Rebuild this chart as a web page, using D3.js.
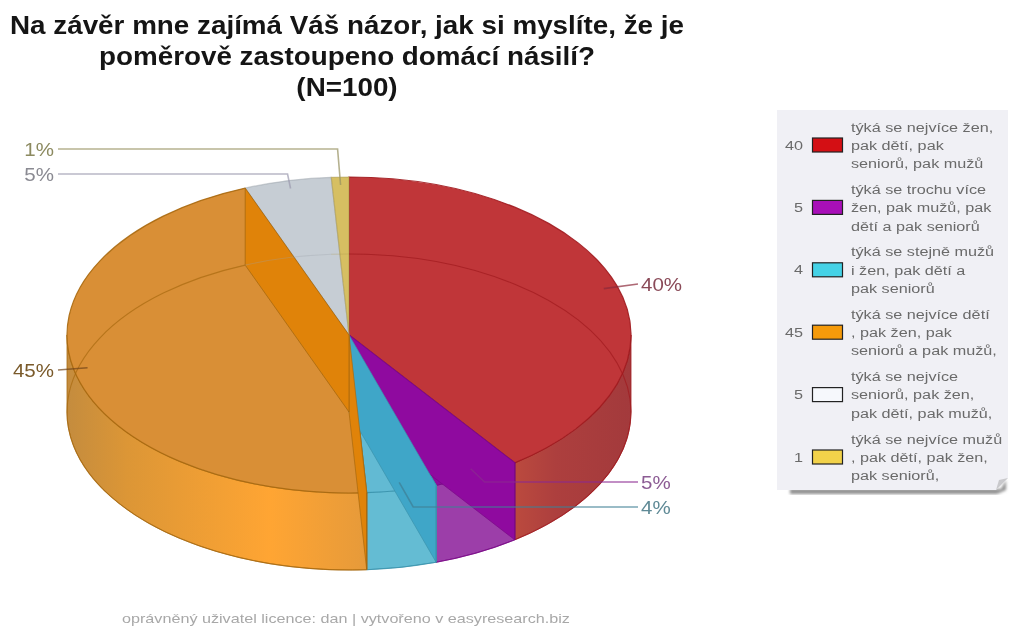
<!DOCTYPE html>
<html><head><meta charset="utf-8">
<script src="https://cdnjs.cloudflare.com/ajax/libs/d3/7.8.5/d3.min.js"></script>
<style>html,body{margin:0;background:#fff}svg{display:block;filter:blur(0.45px)}text{font-family:"Liberation Sans",Arial,sans-serif}</style>
</head><body><svg id="c" width="1010" height="627"></svg>
<script>
const titleLines = ["Na závěr mne zajímá Váš názor, jak si myslíte, že je","poměrově zastoupeno domácí násilí?","(N=100)"];
const values = [40,5,4,45,5,1];
const pctLabels = ["40%","5%","4%","45%","5%","1%"];
const legendLines = [
 ["týká se nejvíce žen,","pak dětí, pak","seniorů, pak mužů"],
 ["týká se trochu více","žen, pak mužů, pak","dětí a pak seniorů"],
 ["týká se stejně mužů","i žen, pak dětí a","pak seniorů"],
 ["týká se nejvíce dětí",", pak žen, pak","seniorů a pak mužů,"],
 ["týká se nejvíce","seniorů, pak žen,","pak dětí, pak mužů,"],
 ["týká se nejvíce mužů",", pak dětí, pak žen,","pak seniorů,"]];
const footer = "oprávněný uživatel licence: dan | vytvořeno v easyresearch.biz";

const swatch = ["#d40f14","#a80fb8","#45d2e6","#f59a0a","#f6f8fc","#f2d24a"];
const topFill = ["#c03639","#8f0a9f","#62bad3","#d98f36","#c6cdd4","#d6bf62"];
const sideFill = ["#a93c3e","#9c3ea9","#64bcd3","#f0a035","#c6cdd4","#d6bf62"];
const wallFill = ["#b03030","#8f0a9f","#3fa6c8","#e08309","#c6cdd4","#d6bf62"];
const edge = ["#a01a1e","#7a0a88","#3a93ad","#a8690f","#9aa2aa","#a8964a"];
const labelCol = ["#8a4a58","#8c5c94","#5f8a96","#7a5a2a","#8a8a92","#8c8a60"];
const lineCol = ["#8c2a3a","#8a2a90","#3f7f94","#70441a","#9a98ae","#96905f"];

const W=1010,H=627,cx=349,cy=335,rx=282,ry=158,depth=77;
const svg=d3.select("#c");
const defs=svg.append("defs");
const blur=defs.append("filter").attr("id","sh").attr("x","-5%").attr("y","-5%").attr("width","110%").attr("height","110%");
blur.append("feGaussianBlur").attr("stdDeviation",1.6);
function grad(id,stops){const g=defs.append("linearGradient").attr("id",id).attr("x1",0).attr("x2",1).attr("y1",0).attr("y2",0);
 stops.forEach(s=>g.append("stop").attr("offset",s[0]).attr("stop-color",s[1]));return `url(#${id})`;}
const sideG=[
 grad("g0",[[0,"#bb4a3e"],[0.35,"#ad3f3e"],[1,"#a33a3c"]]),
 sideFill[1],sideFill[2],
 grad("g3",[[0,"#c48c3e"],[0.2,"#dc9636"],[0.68,"#ffa533"],[1,"#e69a3a"]]),
 sideFill[4],sideFill[5]];
// the reference's type is horizontally stretched
function txt(g,x,y,sx,s){return g.append("text").attr("transform",`translate(${x},${y}) scale(${sx},1)`).text(s);}

// title
const tg=svg.append("g");
titleLines.forEach((t,i)=>txt(tg,347,[34,65,96][i],1.113,t).attr("text-anchor","middle")
 .attr("font-size",25).attr("font-weight","bold").attr("fill","#151515"));

// pie
const arcs=d3.pie().sort(null).value(d=>d)(values);
const k=ry/rx, dScaled=depth/k;
const pie=svg.append("g").attr("transform",`translate(${cx},${cy}) scale(1,${k})`);
const sector=d3.arc().innerRadius(0).outerRadius(rx);
const st=(sel,c,w,o)=>sel.attr("stroke",c).attr("stroke-width",w).attr("stroke-opacity",o).attr("vector-effect","non-scaling-stroke");

function sidePath(a0,a1){
 const s=Math.max(a0,Math.PI/2), e=Math.min(a1,3*Math.PI/2);
 if(e<=s) return null;
 const p=d3.path();
 p.arc(0,0,rx,s-Math.PI/2,e-Math.PI/2);
 p.arc(0,dScaled,rx,e-Math.PI/2,s-Math.PI/2,true);
 p.closePath();return p.toString();
}
function wallPath(a){
 const x=rx*Math.sin(a),y=-rx*Math.cos(a),p=d3.path();
 p.moveTo(0,0);p.lineTo(x,y);p.lineTo(x,y+dScaled);p.lineTo(0,dScaled);p.closePath();return p.toString();
}
function rimPath(a0,a1){const p=d3.path();p.arc(0,dScaled,rx,a0-Math.PI/2,a1-Math.PI/2);return p.toString();}
// outer sides
arcs.forEach((d,i)=>{const sp=sidePath(d.startAngle,d.endAngle);
 if(sp) st(pie.append("path").attr("d",sp).attr("fill",sideG[i]),edge[i],1,0.8);});
// top faces
arcs.forEach((d,i)=>{st(pie.append("path").attr("d",sector(d)).attr("fill",topFill[i]),edge[i],1.2,i==4||i==5?0.5:0.9);});
// inner walls seen through the translucent top
[1,2,3].forEach(i=>{st(pie.append("path").attr("d",wallPath(arcs[i].startAngle)).attr("fill",wallFill[i]),edge[i],1,0.7);});
st(pie.append("path").attr("d",wallPath(arcs[3].endAngle)).attr("fill",wallFill[3]),edge[3],1,0.8);
// bottom rim visible through the faces
arcs.forEach((d,i)=>{
 st(pie.append("path").attr("d",rimPath(d.startAngle,d.endAngle)).attr("fill","none"),edge[i],1.1,i>=4?0.3:0.7);
});
// vertical edges between side faces
[arcs[1].startAngle,arcs[2].startAngle,arcs[3].startAngle].forEach((a,i)=>{
 const x=rx*Math.sin(a),y=-rx*Math.cos(a);
 st(pie.append("line").attr("x1",x).attr("x2",x).attr("y1",y).attr("y2",y+dScaled),edge[i+1],1.2,0.9);
});

// leader lines
const labelX=[641,641,641,54,54,54];
const labelY=[284,482,507,370,174,149];
const elbow=[0,14,14,0,-3,-3];
const lineG=svg.append("g"),labG=svg.append("g");
arcs.forEach((d,i)=>{
 const m=(d.startAngle+d.endAngle)/2;
 const ax=cx+rx*0.95*Math.sin(m), ay=cy-ry*0.95*Math.cos(m);
 const right=i<3, endX=right?labelX[i]-3:labelX[i]+4;
 const pts=[[ax,ay]];
 if(elbow[i]) pts.push([ax+elbow[i],labelY[i]]);
 pts.push([endX,labelY[i]]);
 lineG.append("path").attr("d",d3.line()(pts)).attr("fill","none").attr("stroke",lineCol[i]).attr("stroke-width",1.6).attr("stroke-opacity",0.7);
 txt(labG,labelX[i],labelY[i]+6.5,1.08,pctLabels[i]).attr("text-anchor",right?"start":"end")
  .attr("font-size",19).attr("fill",labelCol[i]);
});

// legend
const lg=svg.append("g");
lg.append("path").attr("d","M790,489H1001L1006,480V490L997,494H790Z").attr("fill","#8f8f8f").attr("filter","url(#sh)");
lg.append("path").attr("d","M777,110H1008V478L996,490H777Z").attr("fill","#f0f0f5");
lg.append("path").attr("d","M1008,478L996,490L999,480Z").attr("fill","#c9c9cc");
const rowY=d3.scaleLinear().domain([0,1]).range([145,207.4]);
legendLines.forEach((lines,i)=>{
 const y=rowY(i);
 txt(lg,803,y+4.5,1.2,values[i]).attr("text-anchor","end").attr("font-size",13.5).attr("fill","#6a6a6a");
 lg.append("rect").attr("x",812.5).attr("y",y-7).attr("width",30).attr("height",14).attr("fill",swatch[i]).attr("stroke","#222").attr("stroke-width",1.2);
 lines.forEach((t,j)=>txt(lg,851,y-18+j*18.3+4.5,1.2,t).attr("font-size",13.5).attr("fill","#6a6a6a"));
});
txt(svg,122,623,1.245,footer).attr("font-size",13).attr("fill","#a8a8a8");
</script></body></html>
